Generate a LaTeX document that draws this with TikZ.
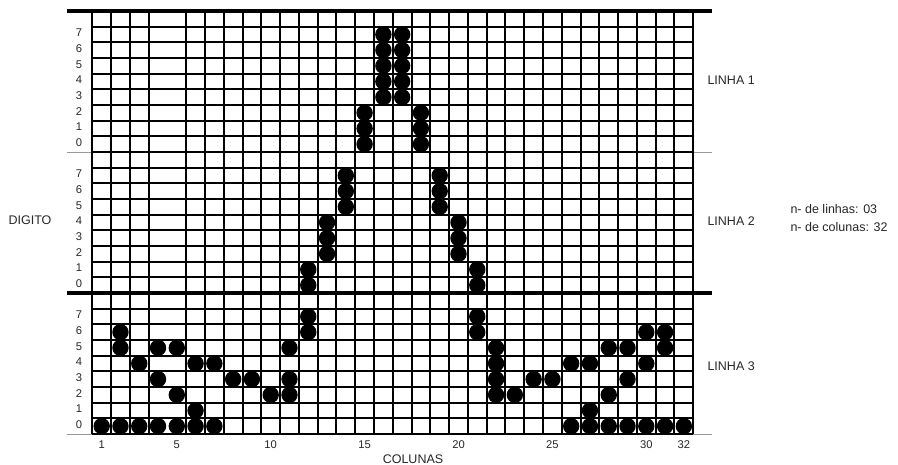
\documentclass[tikz,border=0pt]{standalone}
\usepackage{fontspec}
\setmainfont{Liberation Sans}
\begin{document}
\begin{tikzpicture}[x=1pt,y=-1pt,
    gridline/.style={line width=2pt},
    bandline/.style={line width=3.2pt},
    thinline/.style={line width=0.8pt, black!40},
    lbl/.style={font=\fontsize{12.5}{14}\selectfont, text=black!85},
    num/.style={font=\fontsize{11.2}{12}\selectfont, text=black!85, inner sep=0pt}]

    \useasboundingbox (0,0) rectangle (898,465);

    % column width and row height
    \def\cw{18.78}
    \def\rh{15.667}

    % Draw the thin lines under the grid
    \draw[thinline] (67,152) -- (712,152);
    \draw[thinline] (67,434) -- (712,434);

    % Draw the rows of the grid
    \foreach \i in {0,...,27}
      \draw[gridline] (92.3,11+\i*\rh) -- (693.3,11+\i*\rh);

    % Draw the columns (no line between 4 and 5)
    \foreach \k in {0,...,32} {
      \ifnum\k=4 \else
        \draw[gridline] (92.3+\k*\cw,11) -- (92.3+\k*\cw,434);
      \fi
    }

    % Draw the thick band lines
    \draw[bandline] (67,11) -- (712,11);
    \draw[bandline] (67,293) -- (712,293);

    % Draw the dots (band/column/row)
    \foreach \b/\c/\r in {
        1/15/0, 1/15/1, 1/15/2,
        1/16/3, 1/16/4, 1/16/5, 1/16/6, 1/16/7,
        1/17/3, 1/17/4, 1/17/5, 1/17/6, 1/17/7,
        1/18/0, 1/18/1, 1/18/2,
        2/12/0, 2/12/1, 2/13/2, 2/13/3, 2/13/4, 2/14/5, 2/14/6, 2/14/7,
        2/19/5, 2/19/6, 2/19/7, 2/20/2, 2/20/3, 2/20/4, 2/21/0, 2/21/1,
        3/1/0, 3/2/0, 3/3/0, 3/4/0, 3/5/0, 3/6/0, 3/7/0,
        3/26/0, 3/27/0, 3/28/0, 3/29/0, 3/30/0, 3/31/0, 3/32/0,
        3/2/5, 3/2/6, 3/3/4, 3/4/5, 3/4/3, 3/5/5, 3/5/2, 3/6/4, 3/6/1,
        3/7/4, 3/8/3, 3/9/3, 3/10/2, 3/11/5, 3/11/3, 3/11/2,
        3/12/7, 3/12/6, 3/21/7, 3/21/6,
        3/22/5, 3/22/4, 3/22/3, 3/22/2, 3/23/2, 3/24/3, 3/25/3,
        3/26/4, 3/27/4, 3/27/1, 3/28/5, 3/28/2, 3/29/5, 3/29/3,
        3/30/6, 3/30/4, 3/31/6, 3/31/5}
      \fill (92.3+\c*\cw-0.5*\cw, 11+\b*9*\rh-\r*\rh-0.5*\rh) circle (8.2);

    % Draw the row numbers
    \foreach \b in {1,2,3}
      \foreach \r in {0,...,7}
        \node[num] (r\b\r) at (79, 11+\b*9*\rh-\r*\rh-0.6*\rh) {\r};

    % Draw the column numbers
    \foreach \c in {1,5,10,15,20,25,30,32}
      \node[num] (c\c) at (92.3+\c*\cw-0.5*\cw, 445) {\c};

    % Draw the labels
    \node[lbl] (colunas) at (413,459) {COLUNAS};
    \node[lbl] (digito) at (30,220) {DIGITO};
    \node[lbl, anchor=west] (linha1) at (704,80) {LINHA 1};
    \node[lbl, anchor=west] (linha2) at (704,221) {LINHA 2};
    \node[lbl, anchor=west] (linha3) at (704,366) {LINHA 3};
    \node[lbl, anchor=west] (nlinhas) at (787,209) {n- de linhas: 03};
    \node[lbl, anchor=west] (ncolunas) at (787,227) {n- de colunas: 32};
\end{tikzpicture}
\end{document}
